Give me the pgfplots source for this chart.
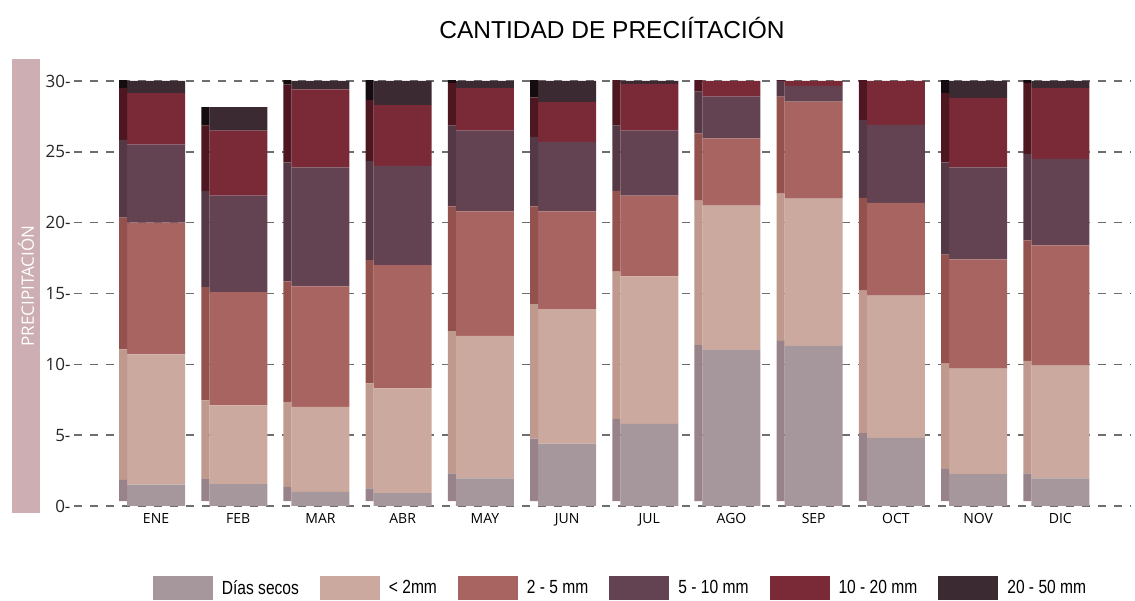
\documentclass[border=0pt]{standalone}
\usepackage{fontspec}
\setmainfont{Liberation Sans}
\newfontfamily\osans{Open Sans}
\usepackage{pgfplots}
\usepackage{pgfplotstable}
\pgfplotsset{compat=1.18}
\definecolor{cdias}{HTML}{A6979C}
\definecolor{clt}{HTML}{CBA99E}
\definecolor{cab}{HTML}{A86460}
\definecolor{cbc}{HTML}{634351}
\definecolor{ccd}{HTML}{7A2937}
\definecolor{cde}{HTML}{3B2A31}
\definecolor{sdias}{HTML}{98838B}
\definecolor{slt}{HTML}{BF998D}
\definecolor{sab}{HTML}{94524F}
\definecolor{sbc}{HTML}{553846}
\definecolor{scd}{HTML}{4E1620}
\definecolor{sde}{HTML}{140C0E}
\definecolor{labelpink}{HTML}{CDAEB2}
\definecolor{gridgray}{HTML}{6E6E6E}

\pgfplotstableread{
x d l a b c e
0 1.5 9.2 9.3 5.5 3.65 0.85
1 1.55 5.55 8.0 6.8 4.6 1.65
2 1.0 6.0 8.5 8.4 5.5 0.6
3 0.9 7.4 8.7 7.0 4.3 1.7
4 1.95 10.05 8.8 5.7 3.0 0.5
5 4.4 9.5 6.9 4.9 2.8 1.5
6 5.8 10.4 5.7 4.6 3.3 0.2
7 11.0 10.2 4.75 2.95 1.1 0
8 11.3 10.4 6.85 1.1 0.35 0
9 4.8 10.05 6.55 5.5 3.1 0
10 2.25 7.45 7.7 6.5 4.9 1.2
11 1.95 7.95 8.5 6.1 5.0 0.5
}\datamain

\pgfplotstableread{
x o d l a b c e
0 0.35 1.5 9.2 9.3 5.5 3.65 0.85
1 0.35 1.55 5.55 8.0 6.8 4.6 1.3
2 0.35 1.0 6.0 8.5 8.4 5.5 0.6
3 0.35 0.9 7.4 8.7 7.0 4.3 1.7
4 0.35 1.95 10.05 8.8 5.7 3.0 0.5
5 0.35 4.4 9.5 6.9 4.9 2.8 1.5
6 0.35 5.8 10.4 5.7 4.6 3.3 0.2
7 0.35 11.0 10.2 4.75 2.95 1.1 0
8 0.35 11.3 10.4 6.85 1.1 0.35 0
9 0.35 4.8 10.05 6.55 5.5 3.1 0
10 0.35 2.25 7.45 7.7 6.5 4.9 1.2
11 0.35 1.95 7.95 8.5 6.1 5.0 0.5
}\dataside

\begin{document}
\begin{tikzpicture}[x=1pt,y=1pt]
\path[use as bounding box] (0,0) rectangle (1135,601);
\pgfplotsset{
  base/.style={
    at={(74pt,95pt)}, anchor=south west, scale only axis,
    width=1057pt, height=425pt,
    xmin=-0.998, xmax=11.86, ymin=0, ymax=30,
    ybar stacked,
    axis line style={draw=none},
    major tick length=0pt,
  },
  leg/.style={legend image code/.code={\fill[##1] (0pt,-12pt) rectangle (60pt,12pt);}},
}
\begin{axis}[base,
  bar width=58pt,
  ytick={0,5,10,15,20,25,30},
  yticklabels={0-,5-,10-,15-,20-,25-,30-},
  yticklabel style={font=\osans\fontsize{17}{17}\selectfont, text=black!85},
  xtick={0,1,2,3,4,5,6,7,8,9,10,11},
  xticklabels={ENE,FEB,MAR,ABR,MAY,JUN,JUL,AGO,SEP,OCT,NOV,DIC},
  xticklabel style={font=\osans\fontsize{14}{14}\selectfont, yshift=-4pt},
  ymajorgrids,
  major grid style={gridgray, line width=1.4pt, dash pattern=on 8pt off 8pt},
  every axis y label/.style={at={(axis description cs:-0.0454,0.5176)}, rotate=90, anchor=center},
  ylabel={PRECIPITACIÓN},
  ylabel style={fill=labelpink, text=white, minimum width=454pt, minimum height=28pt, inner sep=0pt, font=\osans\fontsize{17}{17}\selectfont},
  legend style={at={(axis description cs:0.5175,-0.193)}, anchor=center, draw=none, fill=none,
    legend columns=6, font=\fontsize{19}{19}\selectfont,
    /tikz/every odd column/.append style={column sep=6pt},
    /tikz/every even column/.append style={column sep=18pt},
    nodes={inner sep=3pt}},
]
\addplot[leg, draw=none, fill=cdias] table[x=x,y=d]{\datamain};
\addplot[leg, draw=none, fill=clt] table[x=x,y=l]{\datamain};
\addplot[leg, draw=none, fill=cab] table[x=x,y=a]{\datamain};
\addplot[leg, draw=none, fill=cbc] table[x=x,y=b]{\datamain};
\addplot[leg, draw=none, fill=ccd] table[x=x,y=c]{\datamain};
\addplot[leg, draw=none, fill=cde] table[x=x,y=e]{\datamain};
\legend{\scalebox{0.82}[1]{Días secos},\scalebox{0.82}[1]{< 2mm},\scalebox{0.82}[1]{2 - 5 mm},\scalebox{0.82}[1]{5 - 10 mm},\scalebox{0.82}[1]{10 - 20 mm},\scalebox{0.82}[1]{20 - 50 mm}}
\end{axis}
\begin{axis}[base, xtick=\empty, ytick=\empty]
\addplot[draw=none, fill=none, bar width=8pt, bar shift=-33pt] table[x=x,y=o]{\dataside};
\addplot[draw=none, fill=sdias, bar width=8pt, bar shift=-33pt] table[x=x,y=d]{\dataside};
\addplot[draw=none, fill=slt, bar width=8pt, bar shift=-33pt] table[x=x,y=l]{\dataside};
\addplot[draw=none, fill=sab, bar width=8pt, bar shift=-33pt] table[x=x,y=a]{\dataside};
\addplot[draw=none, fill=sbc, bar width=8pt, bar shift=-33pt] table[x=x,y=b]{\dataside};
\addplot[draw=none, fill=scd, bar width=8pt, bar shift=-33pt] table[x=x,y=c]{\dataside};
\addplot[draw=none, fill=sde, bar width=8pt, bar shift=-33pt] table[x=x,y=e]{\dataside};
\end{axis}
\node[font=\fontsize{24.5}{24.5}\selectfont, anchor=center] at (612,573) {CANTIDAD DE PRECIÍTACIÓN};
\end{tikzpicture}
\end{document}
